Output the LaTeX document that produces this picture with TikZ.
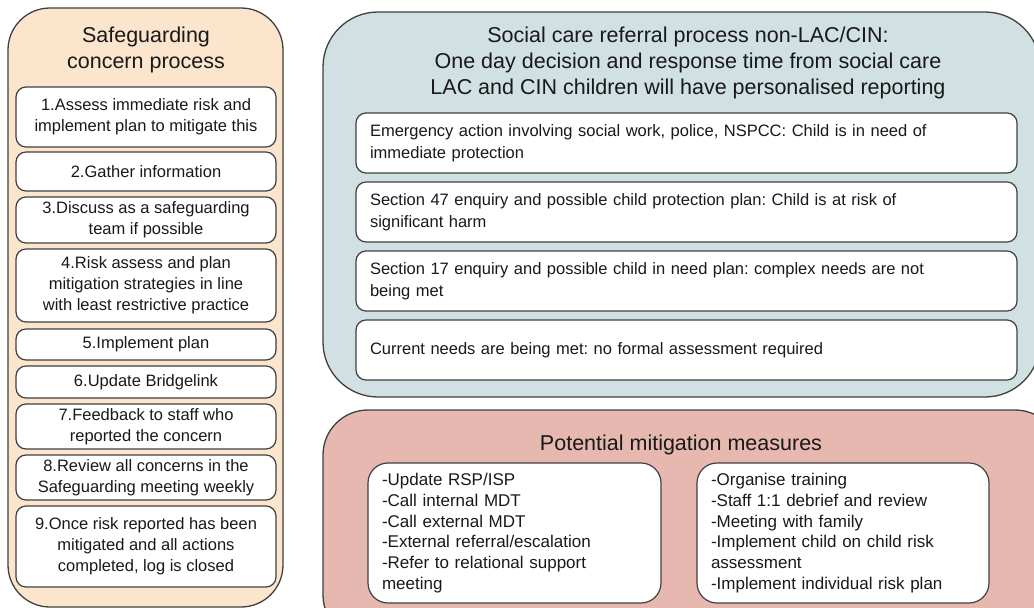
\documentclass[tikz,border=0pt]{standalone}
\usepackage{fontspec}
\setmainfont{Liberation Sans}
\frenchspacing
\begin{document}
\begin{tikzpicture}[x=1pt,y=-1pt,
  outer/.style={draw=black!75, line width=1.3pt},
  inbox/.style={draw=black!75, line width=1.2pt, fill=white, rounded corners=10pt, inner sep=0pt, text=black!90},
  lstep/.style={inbox, minimum width=260pt, align=center, font=\fontsize{16.5}{21}\selectfont},
  sbox/.style={inbox, minimum width=661pt, minimum height=60pt, text width=633pt, align=left, font=\fontsize{16.5}{22}\selectfont},
  mbox/.style={inbox, rounded corners=20pt, minimum height=140pt, align=left, font=\fontsize{17}{20.7}\selectfont},
  ttl/.style={align=center, text=black!90, font=\fontsize{21.5}{26}\selectfont}]
\useasboundingbox (0,0) rectangle (1034,608);
\fill[white] (0,0) rectangle (1034,608);
\clip (0,0) rectangle (1034,608);
% outer containers
\draw[outer, fill={rgb,255:red,252;green,229;blue,205}, rounded corners=42pt] (8,8) rectangle (283,607);
\draw[outer, fill={rgb,255:red,208;green,224;blue,227}, rounded corners=55pt] (323,12) rectangle (1040,397);
\draw[outer, fill={rgb,255:red,230;green,184;blue,175}, rounded corners=45pt] (323,410) rectangle (1060,640);
% titles
\node[ttl] (t1) at (146,50) {Safeguarding\\concern process};
\node[ttl] (t2) at (688,63) {Social care referral process non-LAC/CIN:\\One day decision and response time from social care\\LAC and CIN children will have personalised reporting};
\node[ttl] (t3) at (681,445) {Potential mitigation measures};
% left steps
\node[lstep, minimum height=60pt] (s1) at (146,117) {1.Assess immediate risk and\\implement plan to mitigate this};
\node[lstep, minimum height=39pt] (s2) at (146,171.5) {2.Gather information};
\node[lstep, minimum height=46pt] (s3) at (146,220) {3.Discuss as a safeguarding\\team if possible};
\node[lstep, minimum height=73pt] (s4) at (146,285.5) {4.Risk assess and plan\\mitigation strategies in line\\with least restrictive practice};
\node[lstep, minimum height=31pt] (s5) at (146,344.5) {5.Implement plan};
\node[lstep, minimum height=32pt] (s6) at (146,382) {6.Update Bridgelink};
\node[lstep, minimum height=45pt] (s7) at (146,426.5) {7.Feedback to staff who\\reported the concern};
\node[lstep, minimum height=45pt] (s8) at (146,477.5) {8.Review all concerns in the\\Safeguarding meeting weekly};
\node[lstep, minimum height=81pt] (s9) at (146,546.5) {9.Once risk reported has been\\mitigated and all actions\\completed, log is closed};
% social care options
\node[sbox] (c1) at (686.5,143) {Emergency action involving social work, police, NSPCC: Child is in need of\\immediate protection};
\node[sbox] (c2) at (686.5,212) {Section 47 enquiry and possible child protection plan: Child is at risk of\\significant harm};
\node[sbox] (c3) at (686.5,281) {Section 17 enquiry and possible child in need plan: complex needs are not\\being met};
\node[sbox] (c4) at (686.5,350) {Current needs are being met: no formal assessment required};
% mitigation boxes
\node[mbox, minimum width=293pt, text width=265pt] (m1) at (514.5,533) {-Update RSP/ISP\\-Call internal MDT\\-Call external MDT\\-External referral/escalation\\-Refer to relational support\\meeting};
\node[mbox, minimum width=292pt, text width=264pt] (m2) at (843,533) {-Organise training\\-Staff 1:1 debrief and review\\-Meeting with family\\-Implement child on child risk\\assessment\\-Implement individual risk plan};
\end{tikzpicture}
\end{document}
